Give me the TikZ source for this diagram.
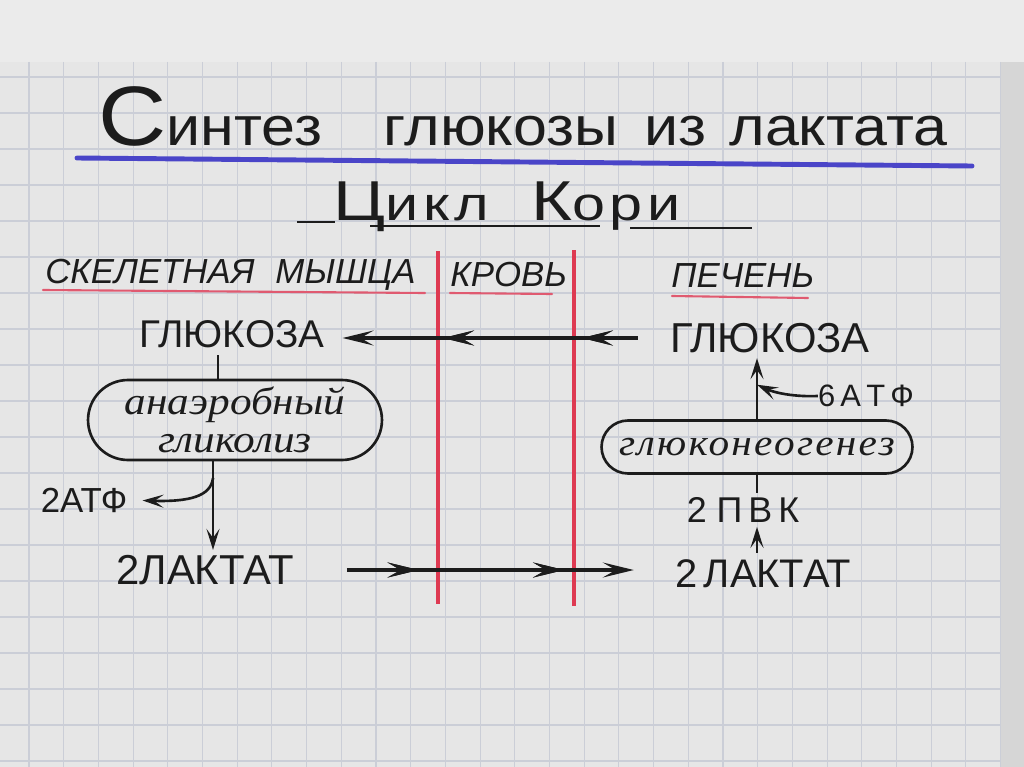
\documentclass[tikz,border=0pt]{standalone}
\usepackage{fontspec}
\setmainfont{Liberation Sans}
\newfontfamily\handfont{Liberation Sans}[FakeStretch=1.12]
\newfontfamily\widefont{Liberation Sans}[FakeStretch=1.25,LetterSpace=10]
\newfontfamily\cursfont{Liberation Serif}[FakeStretch=1.12]
\usetikzlibrary{arrows.meta,shapes.misc,decorations.markings}

\definecolor{ink}{HTML}{1C1C1C}
\definecolor{desk}{HTML}{EBEBEB}
\definecolor{paperedge}{HTML}{D6D6D6}
\definecolor{paper}{HTML}{E6E6E6}
\definecolor{gridcol}{HTML}{CBCED7}
\definecolor{marginred}{HTML}{DE3A52}
\definecolor{pinkline}{HTML}{E05A70}
\definecolor{penblue}{HTML}{4A45C8}

\begin{document}
\begin{tikzpicture}[
    x=0.02cm, y=-0.02cm,
    caps/.style={inner sep=0pt, text=ink, font=\fontsize{22}{24}\selectfont},
    head/.style={inner sep=0pt, text=ink, anchor=base west, font=\itshape\fontsize{19.8}{22}\selectfont},
    procbox/.style={draw=ink, line width=1.5pt, rounded rectangle, align=center, text=ink, inner sep=0pt},
    line/.style={draw=ink, line width=1.5pt},
    flow/.style={draw=ink, line width=1.5pt, -{Stealth[length=4.2mm,width=2.6mm,inset=1.8mm]}},
    bigflow/.style={draw=ink, line width=1.9pt, -{Stealth[length=6.2mm,width=3mm,inset=2.6mm]}},
    midtip/.style={postaction={decorate}, decoration={markings,
        mark=at position #1 with {\arrow{Stealth[length=6.2mm,width=3mm,inset=2.6mm]}}}},
    barrier/.style={draw=marginred, line width=2.4pt},
    uline/.style={draw=pinkline, line width=1.2pt, line cap=round},
    gridline/.style={draw=gridcol, line width=0.6pt}
]

    % Лист в клетку
    \useasboundingbox (0,0) rectangle (1024,767);
    \fill[desk] (0,0) rectangle (1024,767);
    \fill[paperedge] (1000,62) rectangle (1024,767);
    \fill[paper] (0,62) rectangle (1000,767);
    \foreach \gx in {0,...,28}
        \draw[gridline] ({29+34.7*\gx},62) -- ({29+34.7*\gx},767);
    \foreach \gy in {0,...,19}
        \draw[gridline] (0,{77+36*\gy}) -- (1000,{77+36*\gy});

    % Заголовок
    \node[anchor=base west, inner sep=0pt, text=ink, font=\handfont\fontsize{31}{34}\selectfont] (title) at (98,145)
        {{\fontsize{48}{50}\selectfont С}интез\hspace{35pt}глюкозы\hspace{15pt}из\hspace{13pt}лактата};
    \draw[penblue, line width=2.8pt, line cap=round] (77,158) -- (972,166);

    \node[anchor=base west, inner sep=0pt, text=ink, font=\widefont\fontsize{27}{29}\selectfont] (cori) at (333,220)
        {{\fontsize{32}{34}\selectfont Ц}икл\hspace{24pt}{\fontsize{32}{34}\selectfont К}ори};
    \draw[line] (297,222) -- (335,222);
    \draw[line] (370,226) -- (600,226);
    \draw[line] (630,228) -- (752,228);

    % Отделы
    \node[head] (skel) at (45,283) {СКЕЛЕТНАЯ\hspace{0.6em}МЫШЦА};
    \node[head] (blood) at (450,286) {КРОВЬ};
    \node[head] (liver) at (671,287) {ПЕЧЕНЬ};
    \draw[uline] (43,290) -- (425,293);
    \draw[uline] (450,293) -- (552,294);
    \draw[uline] (672,296) -- (808,298);

    \draw[barrier] (438,251) -- (438,604);
    \draw[barrier] (574,250) -- (574,606);

    % Мышца
    \node[caps, inner xsep=0.36cm] (gluL) at (232,334) {ГЛЮКОЗА};
    \node[procbox, minimum width=5.88cm, minimum height=1.6cm,
          font=\cursfont\itshape\fontsize{22}{22}\selectfont] (anaer) at (235,420) {анаэробный\\гликолиз};
    \node[caps, font=\fontsize{19.8}{22}\selectfont] (atpL) at (84,500) {2АТФ};
    \node[caps, font=\fontsize{23.8}{26}\selectfont, inner xsep=1.06cm] (latL) at (205,570) {2ЛАКТАТ};

    % Печень
    \node[caps, font=\fontsize{23.8}{26}\selectfont, inner xsep=0.64cm] (gluR) at (770,338) {ГЛЮКОЗА};
    \node[caps, font=\fontsize{17.6}{20}\selectfont] (atpR) at (866,396) {6\,А\,Т\,Ф};
    \node[procbox, minimum width=6.22cm, minimum height=1.06cm,
          font=\cursfont\itshape\addfontfeatures{LetterSpace=6}\fontsize{21}{24}\selectfont] (gluco) at (757,447) {глюконеогенез};
    \node[caps, font=\fontsize{20.4}{22}\selectfont] (pvk) at (743,510) {2\;П\,В\,К};
    \node[caps, font=\fontsize{22.7}{25}\selectfont, inner xsep=0.82cm] (latR) at (763,574) {2\,ЛАКТАТ};

    % Связи
    \coordinate (fork) at (213,478);
    \draw[line] ([shift={(-14,7)}]gluL.south) coordinate (gl1) -- (gl1 |- anaer.north);
    \draw[flow, shorten >=0.1cm] (anaer.south -| fork) -- (latL.north -| fork);
    \draw[flow, shorten >=0.3cm] (fork) .. controls (211,496) and (190,502) .. (atpL.east);

    \draw[flow, shorten >=0.1cm] (gluco.north) -- (gluco.north |- gluR.south);
    \draw[flow] (atpR.west) .. controls (795,397) and (775,393) .. (gluco.north |- atpR.north);
    \draw[line, shorten >=0.08cm] (gluco.south) -- (gluco.south |- pvk.north);
    \draw[flow, shorten <=0.14cm, shorten >=0.08cm] (latR.north -| gluco.south) -- (pvk.south -| gluco.south);

    \draw[bigflow, midtip=0.19, midtip=0.66] (gluR.west) -- (gluR.west -| gluL.east);
    \draw[bigflow, midtip=0.25, midtip=0.757] (latL.east) -- (latL.east -| latR.west);

\end{tikzpicture}
\end{document}
